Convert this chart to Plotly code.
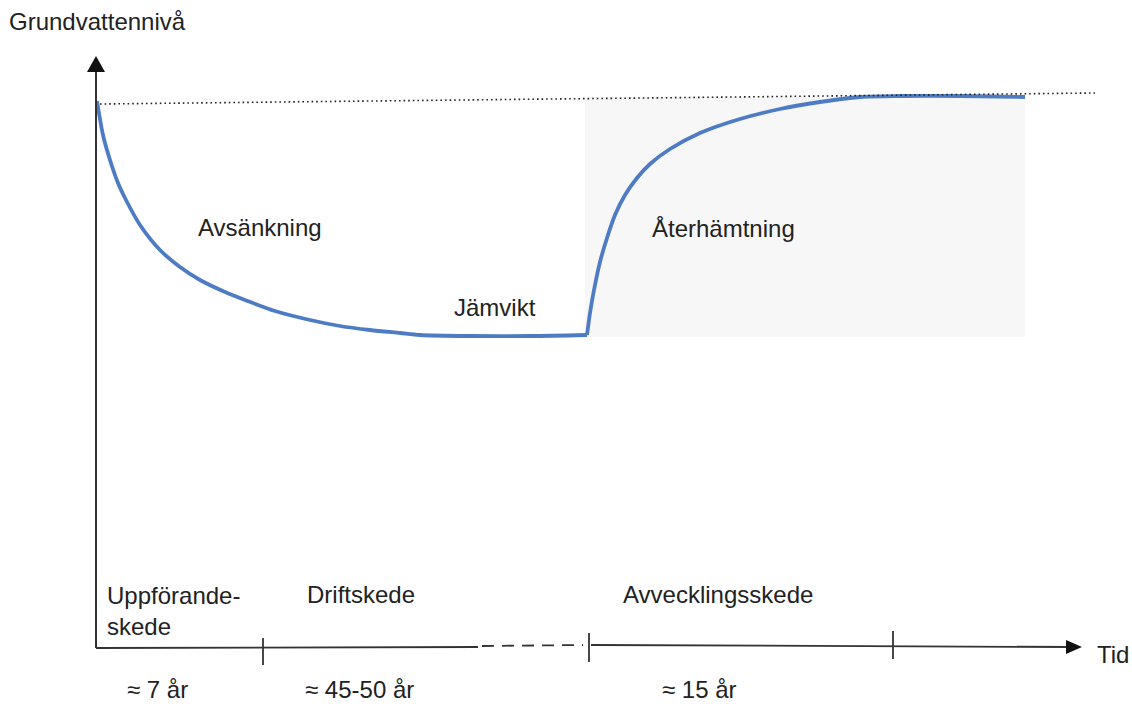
import plotly.graph_objects as go

# Schematic groundwater level curve (chart coordinates: x = time, y = depth on page scale)
drawdown_x = [97, 103, 110, 118, 126, 140, 160, 180, 200, 225, 245, 275, 310, 340, 370, 400, 420, 470, 530, 587]
drawdown_y = [101, 135, 160, 183, 200, 225, 250, 267, 280, 292, 300, 311, 320, 326, 330, 333, 335, 336, 336, 335]
recovery_x = [587, 590, 594, 600, 607, 615, 625, 637, 650, 670, 700, 740, 780, 820, 860, 900, 960, 1025]
recovery_y = [335, 313, 290, 262, 238, 215, 195, 178, 164, 149, 133, 119, 109, 102, 97, 96, 96, 97]

phase_labels = ["Avsänkning", "Jämvikt", "Återhämtning"]
stage_labels = ["Uppförande-<br>skede", "Driftskede", "Avvecklingsskede"]
duration_labels = ["≈ 7 år", "≈ 45-50 år", "≈ 15 år"]
y_title = "Grundvattennivå"
x_title = "Tid"

FONT = "Liberation Sans, Arial, sans-serif"
FS = 24
TXT = "#222222"
AX = "#333333"
BLUE = "#4d7cc4"

fig = go.Figure()

shapes = [
    dict(type="rect", x0=585, x1=1025, y0=97, y1=337, fillcolor="#f7f7f7",
         line=dict(width=0), layer="below"),
    dict(type="line", x0=100, y0=104, x1=1095, y1=93,
         line=dict(color="#222222", width=1.6, dash="1.6px,3px")),
    dict(type="line", x0=96, y0=648, x1=96, y1=70, line=dict(color=AX, width=2)),
    dict(type="path", path="M 96 56 L 87 72 L 105 72 Z", fillcolor="#111111",
         line=dict(width=0)),
    dict(type="line", x0=96, y0=648, x1=478, y1=647, line=dict(color=AX, width=1.8)),
    dict(type="line", x0=482, y0=646, x1=583, y1=645,
         line=dict(color=AX, width=1.8, dash="12px,8px")),
    dict(type="line", x0=591, y0=645, x1=1070, y1=647, line=dict(color=AX, width=1.8)),
    dict(type="path", path="M 1082 647 L 1066 640 L 1066 654 Z", fillcolor="#111111",
         line=dict(width=0)),
    dict(type="line", x0=263, y0=638, x1=263, y1=665, line=dict(color=AX, width=1.8)),
    dict(type="line", x0=589, y0=633, x1=589, y1=662, line=dict(color=AX, width=1.8)),
    dict(type="line", x0=893, y0=631, x1=893, y1=659, line=dict(color=AX, width=1.8)),
]

fig.add_trace(go.Scatter(x=drawdown_x, y=drawdown_y, mode="lines",
                         line=dict(color=BLUE, width=3.8, shape="spline", smoothing=0.8),
                         hoverinfo="skip", showlegend=False))
fig.add_trace(go.Scatter(x=recovery_x, y=recovery_y, mode="lines",
                         line=dict(color=BLUE, width=3.8, shape="spline", smoothing=0.8),
                         hoverinfo="skip", showlegend=False))

annotations = []
def txt(x, y, s, anchor="left"):
    annotations.append(dict(x=x, y=y, text=s, showarrow=False, xanchor=anchor,
                            yanchor="middle", align="left", borderpad=0,
                            font=dict(family=FONT, size=FS, color=TXT)))

txt(8, 21, y_title)
txt(197, 227, phase_labels[0])
txt(453, 307, phase_labels[1])
txt(651, 228, phase_labels[2])
txt(106, 611, stage_labels[0])
txt(306, 594, stage_labels[1])
txt(622, 594, stage_labels[2])
txt(126, 689, duration_labels[0])
txt(304, 689, duration_labels[1])
txt(661, 689, duration_labels[2])
txt(1096, 654, x_title)

fig.update_layout(
    width=1132, height=704,
    margin=dict(l=0, r=0, t=0, b=0),
    paper_bgcolor="white", plot_bgcolor="white",
    xaxis=dict(range=[0, 1132], visible=False, fixedrange=True),
    yaxis=dict(range=[704, 0], visible=False, fixedrange=True),
    shapes=shapes, annotations=annotations,
)

fig.write_html("out.html",
               config={"displayModeBar": False},
               post_script="document.body.style.margin='0';document.body.style.overflow='hidden';")
